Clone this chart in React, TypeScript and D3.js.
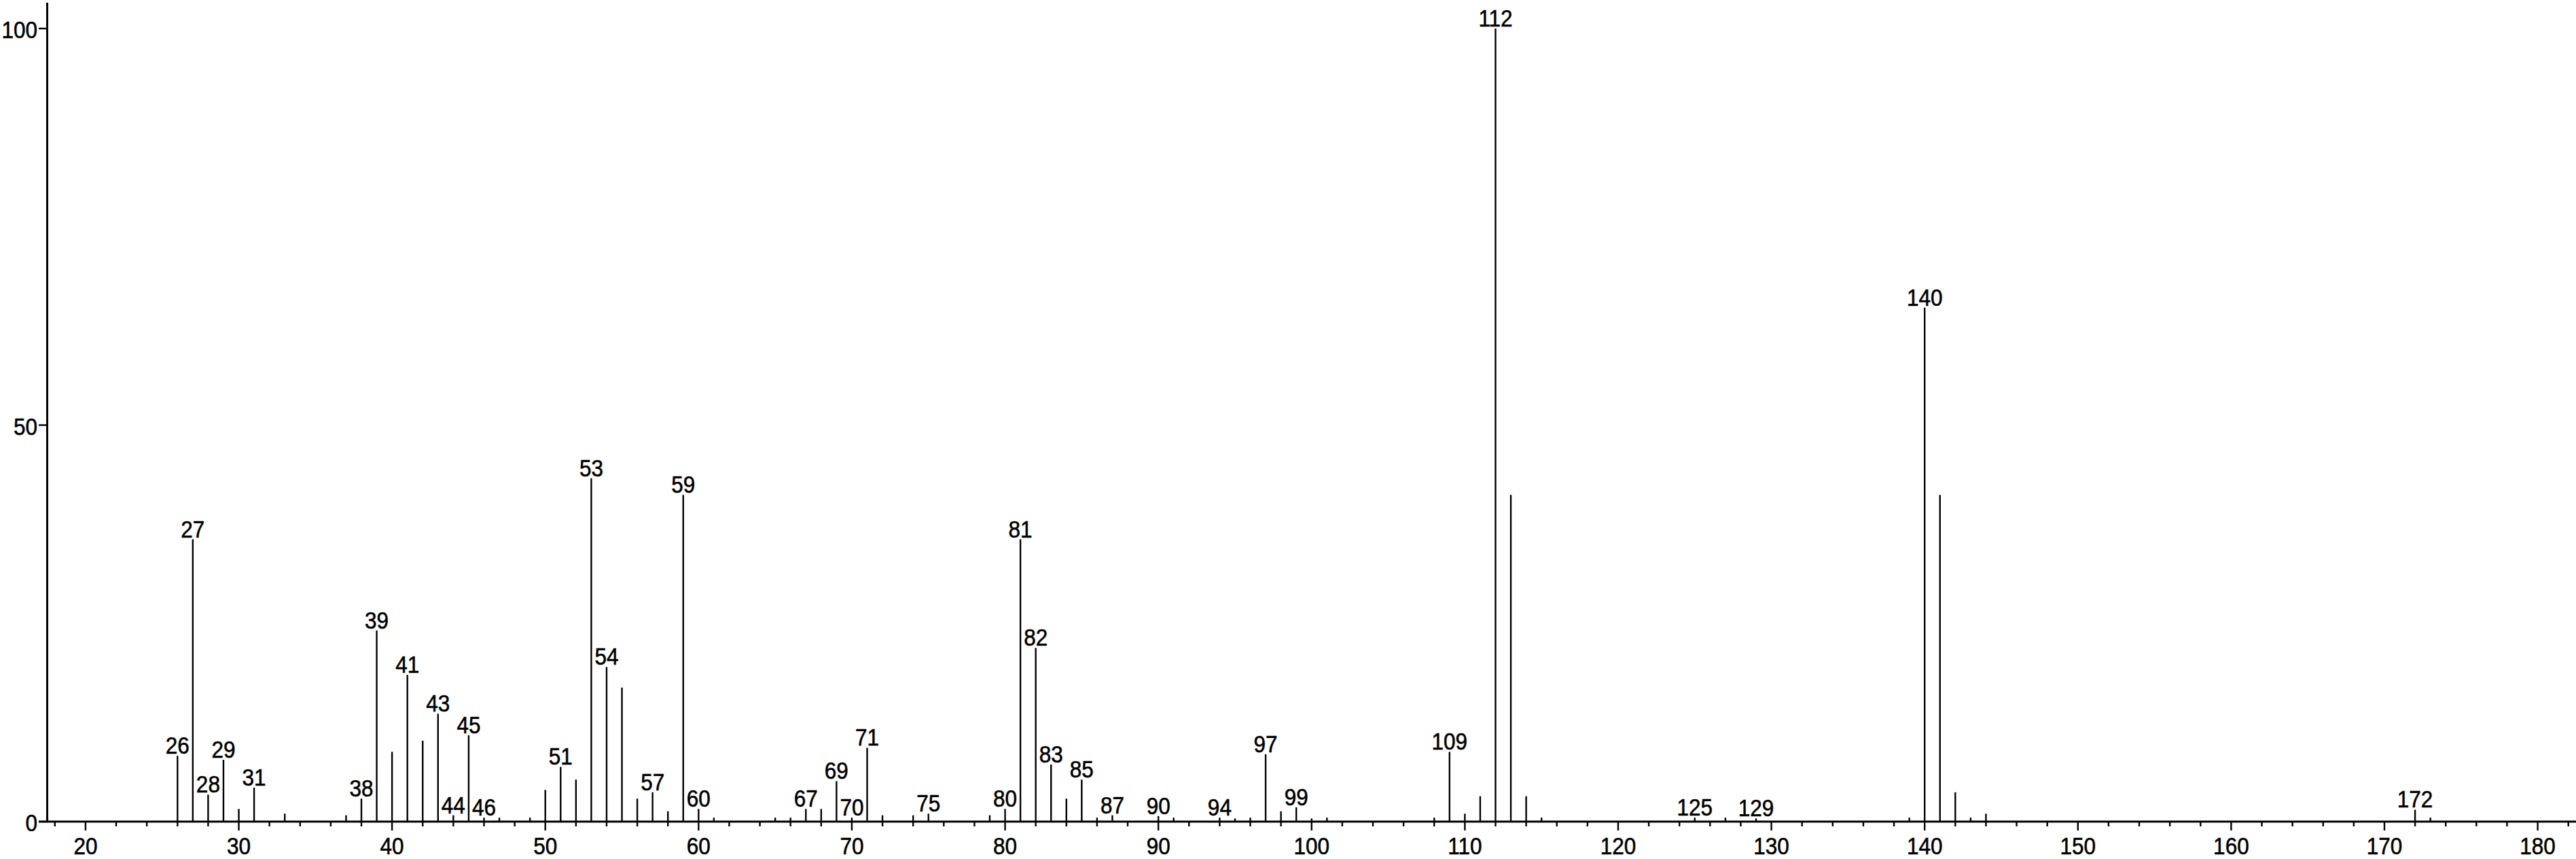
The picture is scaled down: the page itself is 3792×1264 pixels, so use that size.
import React from "react";
import * as d3 from "d3";

const mzValues = [
  26, 27, 28, 29, 30, 31, 33, 37, 38, 39, 40, 41, 42, 43, 44, 45, 46, 47, 49, 50,
  51, 52, 53, 54, 55, 56, 57, 58, 59, 60, 61, 65, 66, 67, 68, 69, 70, 71, 72, 74,
  75, 79, 80, 81, 82, 83, 84, 85, 86, 87, 90, 91, 94, 95, 96, 97, 98, 99, 100, 101,
  108, 109, 110, 111, 112, 113, 114, 115, 125, 127, 129, 139, 140, 141, 142, 143, 144, 172, 173,
];
const intensities = [
  8.3, 35.6, 3.4, 7.8, 1.6, 4.3, 1.0, 0.8, 2.9, 24.1, 8.8, 18.5, 10.2, 13.6, 0.8, 10.9, 0.5, 0.5, 0.5, 4.0,
  6.9, 5.3, 43.3, 19.5, 16.9, 2.9, 3.7, 1.3, 41.2, 1.6, 0.5, 0.5, 0.5, 1.6, 1.6, 5.1, 0.5, 9.3, 0.8, 0.8,
  1.0, 0.8, 1.6, 35.6, 21.9, 7.2, 2.9, 5.3, 0.5, 0.8, 0.7, 0.5, 0.5, 0.4, 0.5, 8.5, 1.3, 1.8, 0.4, 0.5,
  0.5, 8.8, 1.0, 3.2, 100, 41.2, 3.2, 0.5, 0.5, 0.5, 0.4, 0.5, 64.8, 41.2, 3.7, 0.5, 1.0, 1.5, 0.5,
];
const labeledMz = [
  26, 27, 28, 29, 31, 38, 39, 41, 43, 44, 45, 46, 51, 53, 54, 57, 59, 60, 67, 69,
  70, 71, 75, 80, 81, 82, 83, 85, 87, 90, 94, 97, 99, 109, 112, 125, 129, 140, 172,
];
const xMajorTicks = [20, 30, 40, 50, 60, 70, 80, 90, 100, 110, 120, 130, 140, 150, 160, 170, 180];
const yTicks = [0, 50, 100];

const W = 3792;
const H = 1264;

function Label({ x, y, anchor, children }: { x: number; y: number; anchor: string; children: React.ReactNode }) {
  return (
    <text
      transform={`translate(${x},${y}) scale(0.9,1)`}
      textAnchor={anchor}
      fontSize={35}
      fill="#000"
      stroke="#000"
      strokeWidth={0.6}
    >
      {children}
    </text>
  );
}

export default function App() {
  const x = d3.scaleLinear().domain([17.5, 182.5]).range([69.5, 3792]);
  const y = d3.scaleLinear().domain([0, 100]).range([1209, 42]);
  const minorTicks = d3.range(18, 183, 2).filter((v) => v % 10 !== 0);
  const peaks = mzValues.map((m, i) => ({ m, v: intensities[i] }));
  const font = "'Liberation Sans', Arial, sans-serif";

  return (
    <svg
      width={W}
      height={H}
      style={{ position: "absolute", left: 0, top: 0, background: "#fff" }}
      fontFamily={font}
    >
      <rect x={0} y={0} width={W} height={H} fill="#fff" />
      {peaks.map((p) => (
        <line
          key={p.m}
          x1={x(p.m)}
          x2={x(p.m)}
          y1={y(0)}
          y2={y(p.v)}
          stroke="#000"
          strokeWidth={2.4}
        />
      ))}
      {peaks
        .filter((p) => labeledMz.includes(p.m))
        .map((p) => (
          <Label key={"l" + p.m} x={x(p.m)} y={y(p.v) - 3} anchor="middle">
            {p.m}
          </Label>
        ))}
      <line x1={57} x2={W} y1={y(0)} y2={y(0)} stroke="#000" strokeWidth={3} />
      {xMajorTicks.map((t) => (
        <g key={"xt" + t}>
          <line x1={x(t)} x2={x(t)} y1={y(0)} y2={y(0) + 13} stroke="#000" strokeWidth={2.4} />
          <Label x={x(t)} y={1257} anchor="middle">
            {t}
          </Label>
        </g>
      ))}
      {minorTicks.map((t) => (
        <line key={"mt" + t} x1={x(t)} x2={x(t)} y1={y(0)} y2={y(0) + 7} stroke="#000" strokeWidth={2.4} />
      ))}
      <line x1={69.5} x2={69.5} y1={4} y2={y(0)} stroke="#000" strokeWidth={3} />
      {yTicks.map((t) => (
        <g key={"yt" + t}>
          <line x1={57} x2={69.5} y1={y(t)} y2={y(t)} stroke="#000" strokeWidth={2.4} />
          <Label x={55} y={y(t) + 14} anchor="end">
            {t}
          </Label>
        </g>
      ))}
    </svg>
  );
}
